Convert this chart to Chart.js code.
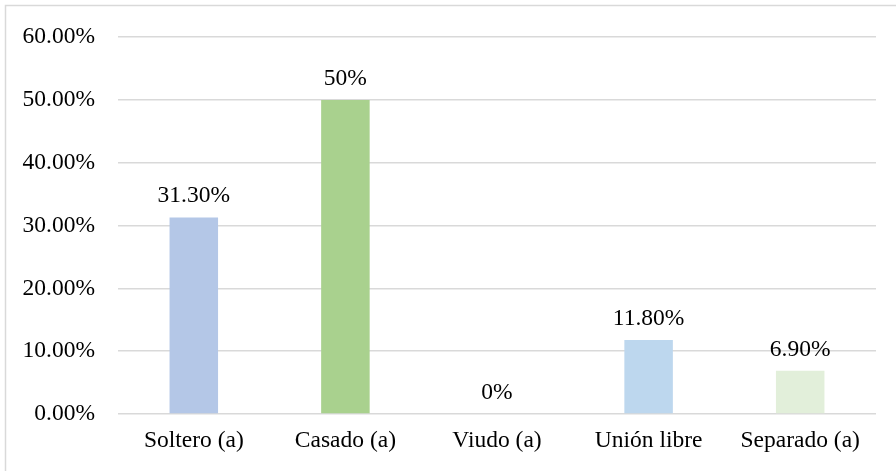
<!DOCTYPE html>
<html>
<head>
<meta charset="utf-8">
<script src="https://cdn.jsdelivr.net/npm/chart.js@4/dist/chart.umd.min.js"></script>
<style>
    html, body { margin: 0; padding: 0; background: #ffffff; }
    #wrap { position: relative; width: 896px; height: 471px; }
</style>
</head>
<body>
<div id="wrap"><canvas id="estadoCivilChart" width="896" height="471"></canvas></div>
<script>
// Estado civil - datos
const categories = ['Soltero (a)', 'Casado (a)', 'Viudo (a)', 'Unión libre', 'Separado (a)'];
const percentValues = [31.3, 50, 0, 11.8, 6.9];
const valueLabels = ['31.30%', '50%', '0%', '11.80%', '6.90%'];
const barColors = ['#B4C7E7', '#A9D18E', '#BDD7EE', '#BDD7EE', '#E2EFDA'];
const yTicks = [0, 10, 20, 30, 40, 50, 60];

const serifFont = "'Liberation Serif', 'Times New Roman', serif";
const fontSize = 23.5;

// Outer frame like the Excel chart border
const framePlugin = {
    id: 'frame',
    beforeDraw(chart) {
        const ctx = chart.ctx;
        ctx.save();
        ctx.fillStyle = '#ffffff';
        ctx.fillRect(0, 0, chart.width, chart.height);
        ctx.strokeStyle = '#D9D9D9';
        ctx.lineWidth = 1.5;
        ctx.strokeRect(5.5, 5.5, chart.width + 10, chart.height + 10);
        ctx.restore();
    }
};

// Value labels above each bar
const valueLabelPlugin = {
    id: 'valueLabels',
    afterDatasetsDraw(chart) {
        const ctx = chart.ctx;
        const meta = chart.getDatasetMeta(0);
        ctx.save();
        ctx.font = fontSize + 'px ' + serifFont;
        ctx.fillStyle = '#000000';
        ctx.textAlign = 'center';
        ctx.textBaseline = 'alphabetic';
        meta.data.forEach((bar, i) => {
            ctx.fillText(valueLabels[i], bar.x, bar.y - 15);
        });
        ctx.restore();
    }
};

new Chart(document.getElementById('estadoCivilChart'), {
    type: 'bar',
    data: {
        labels: categories,
        datasets: [{
            data: percentValues,
            backgroundColor: barColors,
            borderWidth: 0,
            barPercentage: 0.32,
            categoryPercentage: 1
        }]
    },
    options: {
        responsive: false,
        animation: false,
        layout: {
            padding: { top: 34, right: 20, bottom: 0, left: 0 }
        },
        plugins: {
            legend: { display: false },
            tooltip: { enabled: false }
        },
        scales: {
            x: {
                grid: { display: false, drawTicks: false },
                border: { display: false },
                ticks: {
                    color: '#000000',
                    font: { family: serifFont, size: fontSize },
                    padding: 13,
                    maxRotation: 0
                },
                afterFit: scale => { scale.height = 57; }
            },
            y: {
                min: 0,
                max: 60,
                afterBuildTicks: scale => {
                    scale.ticks = yTicks.map(v => ({ value: v }));
                },
                grid: { color: '#D9D9D9', lineWidth: 1.5, drawTicks: false },
                border: { display: false },
                ticks: {
                    color: '#000000',
                    font: { family: serifFont, size: fontSize },
                    padding: 23,
                    callback: value => value.toFixed(2) + '%'
                },
                afterFit: scale => { scale.width = 118; }
            }
        }
    },
    plugins: [framePlugin, valueLabelPlugin]
});
</script>
</body>
</html>
